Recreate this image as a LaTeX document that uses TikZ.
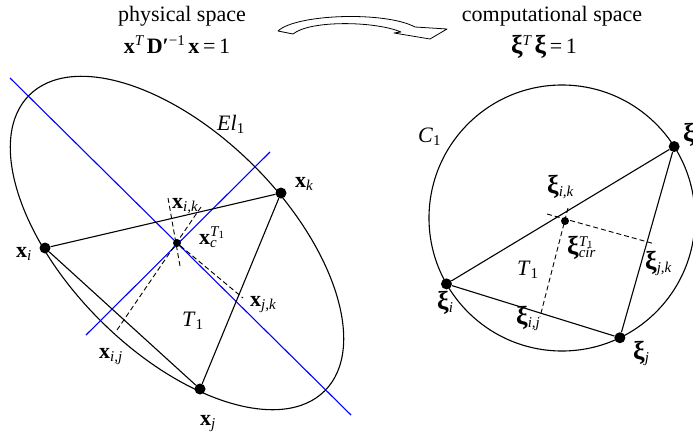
\documentclass[tikz,border=0pt]{standalone}
\usepackage{fontspec}
\setmainfont{Liberation Serif}
\usetikzlibrary{calc}
\newcommand{\sbs}[1]{\raisebox{-3.5pt}{\fontsize{15}{15}\selectfont\itshape #1}}
\newcommand{\sps}[1]{\raisebox{8pt}{\fontsize{15}{15}\selectfont\itshape #1}}
\newcommand{\Tone}{\sps{T\raisebox{-2.5pt}{\fontsize{11}{11}\selectfont\upshape 1}}}
\newcommand{\one}{\raisebox{-3.5pt}{\fontsize{15}{15}\selectfont 1}}
\newcommand{\bx}{\textbf{x}}
\newcommand{\bxi}{{\fontsize{26}{28}\selectfont\textbf{ξ}}}
\tikzset{
  lbl/.style={inner sep=0pt, anchor=base west, font=\fontsize{22}{26}\selectfont},
  ttl/.style={inner sep=0pt, anchor=base, font=\fontsize{22}{26}\selectfont},
  vdot/.style={circle, fill=black, inner sep=0pt, minimum size=11pt},
  cdot/.style={circle, fill=black, inner sep=0pt, minimum size=8pt},
  edgeline/.style={line width=1.1pt},
  axisline/.style={line width=1.1pt, blue},
  aux/.style={line width=0.9pt, dash pattern=on 5pt off 3pt},
}
\begin{document}
\begin{tikzpicture}[x=1pt, y=-1pt]
\useasboundingbox (0,0) rectangle (693,434);
\clip (0,0) rectangle (693,434);

% titles
\node[ttl] (phys) at (182,21) {physical space};
\node[ttl] (comp) at (552,21) {computational space};
\node[ttl] (eqL) at (177,53) {\bx\sps{T}\,\textbf{D}\textbf{′}\raisebox{8pt}{\fontsize{15}{15}\selectfont −1}\,\bx\,=\,1};
\node[ttl] (eqR) at (544,53) {\bxi\sps{T}\,\bxi\,=\,1};

% hollow curved arrow
\draw[line width=0.8pt, fill=white, line join=round]
  (278,31) .. controls (296,14) and (385,11) .. (415,27) -- (447,29) -- (430,39) -- (394,33) -- (401,32)
  .. controls (375,21) and (310,20) .. (293,34) -- cycle;

% ---------- physical space ----------
\coordinate (xcpos) at (177,243);
\draw[edgeline, rotate around={-45:(xcpos)}] (xcpos) ellipse [x radius=209pt, y radius=109pt];

\coordinate (b1a) at (10,78);
\coordinate (b1b) at (351,415);
\coordinate (b2a) at (86,335);
\coordinate (b2b) at (270,152);
\draw[axisline] (b1a) -- (b1b);
\draw[axisline] (b2a) -- (b2b);

\node[vdot] (xi) at (45,248) {};
\node[vdot] (xk) at (281,193) {};
\node[vdot] (xj) at (200,389) {};
\node[cdot] (xc) at (xcpos) {};

\draw[edgeline] (xi) -- (xk) -- (xj) -- (xi);

\coordinate (d1a) at (168,198);
\coordinate (d1b) at (180,266);
\coordinate (d2a) at (117,330);
\coordinate (d2b) at (201,207);
\coordinate (d3b) at (243,298);
\draw[aux] (d1a) -- (d1b);
\draw[aux] (d2a) -- (d2b);
\draw[aux] (xc) -- (d3b);

\node[lbl] (lEl) at (217,130) {\textit{El}\one};
\node[lbl] (lxk) at (295,187) {\bx\sbs{k}};
\node[lbl] (lxi) at (16,257) {\bx\sbs{i}};
\node[lbl] (lxik) at (172,208) {\bx\sbs{i,k}};
\node[lbl] (lxc) at (199,244) {\bx\makebox[0pt][l]{\Tone}\sbs{c}};
\node[lbl] (lxjk) at (250,306) {\bx\sbs{j,k}};
\node[lbl] (lT1) at (182,326) {\textit{T}\one};
\node[lbl] (lxij) at (99,358) {\bx\sbs{i,j}};
\node[lbl] (lxj) at (200,425) {\bx\sbs{j}};

% ---------- computational space ----------
\coordinate (cc) at (562,218);
\draw[edgeline] (cc) circle [radius=133pt];

\node[vdot] (ki) at ($(cc)+(150.3:133)$) {};
\node[vdot] (kj) at ($(cc)+(64.2:133)$) {};
\node[vdot] (kk) at ($(cc)+(-32.5:133)$) {};
\node[cdot] (kc) at (565,221) {};

\draw[edgeline] (ki) -- (kk) -- (kj) -- (ki);

\coordinate (e1a) at (547,214);
\coordinate (e1b) at (655,244);
\coordinate (e2a) at (568,208);
\coordinate (e2b) at (540,317);
\draw[aux] (e1a) -- (e1b);
\draw[aux] (e2a) -- (e2b);

\node[lbl] (lC1) at (418,142) {\textit{C}\one};
\node[lbl] (lkk) at (683,141) {\bxi\sbs{k}};
\node[lbl] (lkik) at (547,193) {\bxi\sbs{i,k}};
\node[lbl] (lkc) at (567,254) {\bxi\makebox[0pt][l]{\Tone}\sbs{cir}};
\node[lbl] (lT1r) at (517,275) {\textit{T}\one};
\node[lbl] (lkjk) at (645,269) {\bxi\sbs{j,k}};
\node[lbl] (lki) at (437,309) {\bxi\sbs{i}};
\node[lbl] (lkij) at (516,324) {\bxi\sbs{i,j}};
\node[lbl] (lkj) at (633,359) {\bxi\sbs{j}};
\end{tikzpicture}
\end{document}
